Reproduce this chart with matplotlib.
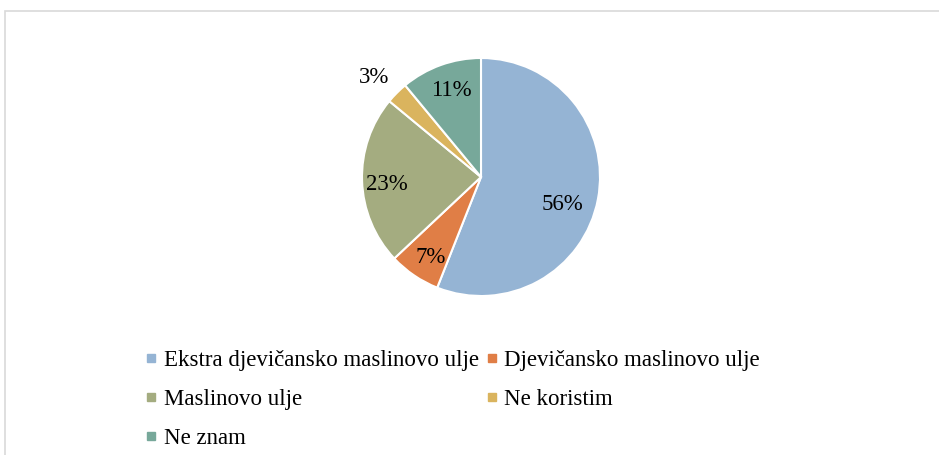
import numpy as np
import matplotlib.pyplot as plt
from matplotlib.lines import Line2D
from matplotlib.patches import Rectangle

plt.rcParams['font.family'] = ['Liberation Serif', 'DejaVu Serif']

labels = ["Ekstra djevičansko maslinovo ulje", "Djevičansko maslinovo ulje",
          "Maslinovo ulje", "Ne koristim", "Ne znam"]
shares = [56, 7, 23, 3, 11]
colors = ["#95B4D4", "#E07E46", "#A4AC80", "#DAB45E", "#77A89A"]

# label placement (fraction of radius, angle shift in degrees)
lab_dist = [0.72, 0.80, 0.79, 1.23, 0.77]
lab_shift = [-8, 2, 3, 2, -1]

fig = plt.figure(figsize=(9.39, 4.55), dpi=100)
fig.patches.append(Rectangle((4.5 / 939, -0.1), 1.0, 1.1 - 11.5 / 455,
                             transform=fig.transFigure, fill=False,
                             edgecolor="#D9D9D9", linewidth=1.2))

R = 119
half = 1.5 * R
ax = fig.add_axes([(481 - half) / 939, 1 - (177 + half) / 455,
                   2 * half / 939, 2 * half / 455])
wedges, _ = ax.pie(shares, colors=colors, startangle=90, counterclock=False,
                   radius=1, wedgeprops=dict(edgecolor="white", linewidth=1.5))
for w, s, d, sh in zip(wedges, shares, lab_dist, lab_shift):
    ang = np.deg2rad((w.theta1 + w.theta2) / 2 + sh)
    ax.text(d * np.cos(ang), d * np.sin(ang), f"{s}%", ha="center", va="center",
            fontsize=16.5, color="black")
ax.set_xlim(-1.5, 1.5)
ax.set_ylim(-1.5, 1.5)
ax.set_aspect("equal")
ax.axis("off")

# legend reads row by row, matplotlib fills column by column
order = [0, 2, 4, 1, 3]
handles = [Line2D([], [], marker="s", linestyle="none", markersize=6,
                  markerfacecolor=colors[i], markeredgecolor=colors[i]) for i in order]
fig.legend(handles, [labels[i] for i in order], loc="upper left",
           bbox_to_anchor=(136 / 939, 1 - 341 / 455),
           ncol=2, frameon=False, fontsize=16.5, handlelength=0.5, handletextpad=0.3,
           columnspacing=0.33, labelspacing=0.79, borderaxespad=0)

fig.savefig("out.png", dpi=100)
